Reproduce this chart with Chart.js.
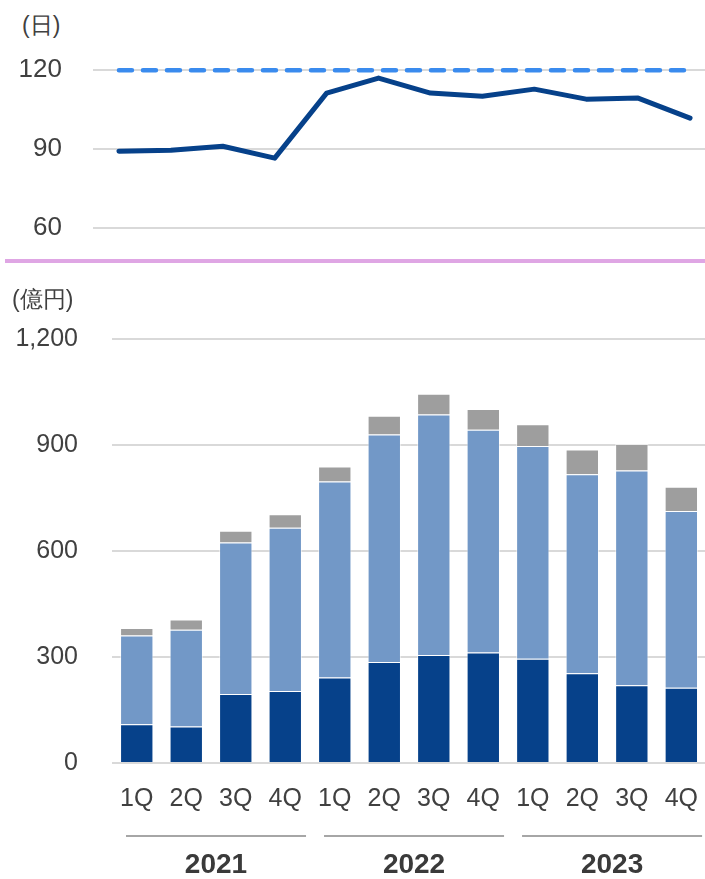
<!DOCTYPE html>
<html>
<head>
<meta charset="utf-8">
<script src="https://cdn.jsdelivr.net/npm/chart.js@4/dist/chart.umd.min.js"></script>
<style>
  body { margin: 0; width: 705px; height: 879px; overflow: hidden; background: #fff; position: relative;
         font-family: "Liberation Sans", Arial, sans-serif; color: #404040; }
  .unit { position: absolute; font-size: 23px; }
  #daysChart { position: absolute; left: 0; top: 0; }
  #salesChart { position: absolute; left: 0; top: 290px; }
  #divider { position: absolute; left: 5px; top: 259px; width: 700px; height: 4px; background: #dfa6e4; }
</style>
</head>
<body>
<div class="unit" style="left:22px;top:10px">(日)</div>
<canvas id="daysChart" width="716" height="288"></canvas>
<div id="divider"></div>
<div class="unit" style="left:12px;top:284px">(億円)</div>
<canvas id="salesChart" width="711" height="589"></canvas>
<script>
const quarters = ['1Q', '2Q', '3Q', '4Q', '1Q', '2Q', '3Q', '4Q', '1Q', '2Q', '3Q', '4Q'];
const years = ['2021', '2022', '2023'];

// top: days (日)
const daysActual = [89.2, 89.6, 91.1, 86.6, 111.3, 117.0, 111.3, 110.1, 112.8, 109.0, 109.4, 101.8];
const daysTarget = [120, 120, 120, 120, 120, 120, 120, 120, 120, 120, 120, 120];
const daysTicks = [60, 90, 120];

// bottom: 億円, stacked
const darkValues = [110, 103, 195, 204, 242, 286, 306, 313, 295, 254, 220, 213];
const lightValues = [251, 274, 429, 462, 555, 644, 680, 630, 602, 563, 608, 500];
const grayValues = [21, 29, 33, 38, 42, 53, 59, 59, 62, 70, 75, 69];

const FONT = '"Liberation Sans", Arial, sans-serif';
const TXT = '#404040';
const GRID = '#d9d9d9';

new Chart(document.getElementById('daysChart'), {
    type: 'line',
    data: {
        labels: quarters,
        datasets: [{
            data: daysTarget,
            borderColor: '#3a8bee',
            borderWidth: 4.5,
            borderDash: [13, 11],
            borderCapStyle: 'round',
            pointRadius: 0,
            tension: 0
        }, {
            data: daysActual,
            borderColor: '#06418a',
            borderWidth: 5,
            borderCapStyle: 'round',
            borderJoinStyle: 'round',
            pointRadius: 0,
            tension: 0
        }]
    },
    options: {
        responsive: false,
        animation: false,
        layout: { padding: { top: 57, bottom: 19, left: 0, right: 0 } },
        plugins: { legend: { display: false }, tooltip: { enabled: false } },
        scales: {
            x: {
                type: 'category', offset: true,
                afterFit: s => { s.height = 0; },
                grid: { display: false },
                border: { display: false },
                ticks: { display: false }
            },
            y: {
                min: 55, max: 125,
                afterBuildTicks: s => { s.ticks = daysTicks.map(v => ({ value: v })); },
                afterFit: s => { s.width = 93; },
                grid: { color: GRID, lineWidth: 2, drawTicks: false },
                border: { display: false },
                ticks: { padding: 31, color: TXT, font: { family: FONT, size: 26 } }
            }
        }
    }
});

const yearGroups = {
    id: 'yearGroups',
    afterDraw(chart) {
        const xs = chart.scales.x;
        const ctx = chart.ctx;
        const slot = xs.getPixelForValue(1) - xs.getPixelForValue(0);
        ctx.save();
        years.forEach((yr, g) => {
            const left = xs.getPixelForValue(g * 4) - slot / 2 + 14;
            const right = xs.getPixelForValue(g * 4 + 3) + slot / 2 - 4;
            ctx.strokeStyle = '#a6a6a6';
            ctx.lineWidth = 2;
            ctx.beginPath();
            ctx.moveTo(left, 546);
            ctx.lineTo(right, 546);
            ctx.stroke();
            ctx.fillStyle = '#3a3a3a';
            ctx.font = 'bold 28px ' + FONT;
            ctx.textAlign = 'center';
            ctx.textBaseline = 'middle';
            ctx.fillText(yr, (left + right) / 2, 575);
        });
        ctx.restore();
    }
};

const barBorder = 'rgba(255,255,255,0.55)';
new Chart(document.getElementById('salesChart'), {
    type: 'bar',
    data: {
        labels: quarters,
        datasets: [
            { data: darkValues, backgroundColor: '#06418a', borderColor: barBorder, borderWidth: 1 },
            { data: lightValues, backgroundColor: '#7298c7', borderColor: barBorder, borderWidth: 1 },
            { data: grayValues, backgroundColor: '#9e9e9e', borderColor: barBorder, borderWidth: 1 }
        ]
    },
    options: {
        responsive: false,
        animation: false,
        layout: { padding: { top: 47, bottom: 0, left: 0, right: 0 } },
        datasets: { bar: { categoryPercentage: 1, barPercentage: 0.674 } },
        plugins: { legend: { display: false }, tooltip: { enabled: false } },
        scales: {
            x: {
                stacked: true,
                afterFit: s => { s.height = 116; },
                grid: { display: false },
                border: { display: false },
                ticks: { padding: 13, color: TXT, font: { family: FONT, size: 25 }, maxRotation: 0, autoSkip: false }
            },
            y: {
                stacked: true,
                min: 0, max: 1200,
                afterFit: s => { s.width = 112; },
                grid: { color: GRID, lineWidth: 2, drawTicks: false },
                border: { display: false },
                ticks: { stepSize: 300, padding: 34, color: TXT, font: { family: FONT, size: 25 } }
            }
        }
    },
    plugins: [yearGroups]
});
</script>
</body>
</html>
